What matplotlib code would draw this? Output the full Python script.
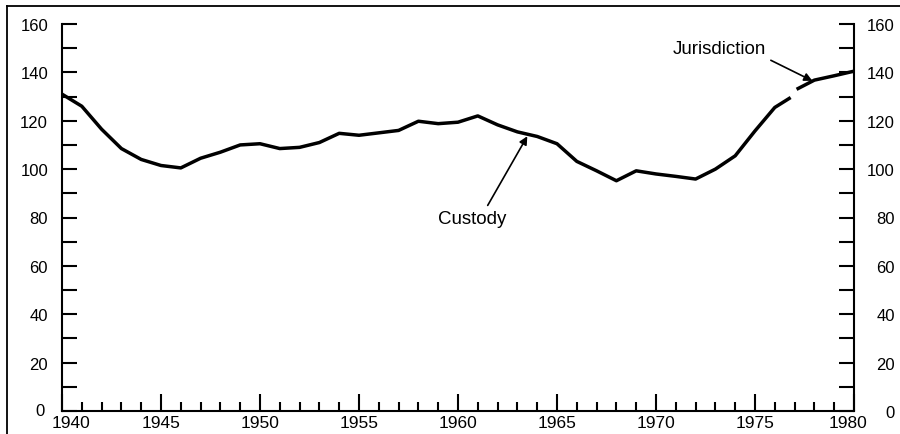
import matplotlib
matplotlib.use("Agg")
import matplotlib.pyplot as plt
from matplotlib.lines import Line2D
from matplotlib.ticker import MultipleLocator
import matplotlib.transforms as mtransforms

plt.rcParams['font.family'] = ['Liberation Sans', 'DejaVu Sans']

# custody series, 1940-1977
custody_years = [1940, 1941, 1942, 1943, 1944, 1945, 1946, 1947, 1948, 1949,
                 1950, 1951, 1952, 1953, 1954, 1955, 1956, 1957, 1958, 1959,
                 1960, 1961, 1962, 1963, 1964, 1965, 1966, 1967, 1968, 1969,
                 1970, 1971, 1972, 1973, 1974, 1975, 1976, 1976.8]
custody_vals = [131, 126, 116.5, 108.5, 104, 101.5, 100.5, 104.5, 107, 110,
                110.5, 108.5, 109, 111, 114.8, 114, 115, 116, 119.8, 118.8,
                119.4, 122, 118.3, 115.4, 113.5, 110.5, 103.2, 99.3, 95.2, 99.3,
                98, 97, 95.9, 100, 105.5, 115.8, 125.5, 129.6]

# jurisdiction series, 1977-1980
juris_years = [1977.1, 1978, 1979, 1980]
juris_vals = [133, 136.8, 138.6, 140.5]

yticks = list(range(0, 161, 20))
xticks = list(range(1940, 1981, 5))

fig = plt.figure(figsize=(9, 4.35), dpi=100)
ax = fig.add_axes([62 / 900, 23 / 435, 792 / 900, 387 / 435])

ax.plot(custody_years, custody_vals, color='black', lw=2.5,
        solid_joinstyle='round', solid_capstyle='butt')
ax.plot(juris_years, juris_vals, color='black', lw=2.5,
        solid_joinstyle='round', solid_capstyle='butt')

ax.set_xlim(1940, 1980)
ax.set_ylim(0, 160)

ax.spines['top'].set_visible(False)
for s in ['left', 'right', 'bottom']:
    ax.spines[s].set_linewidth(1.5)

ax.set_yticks(yticks)
ax.yaxis.set_minor_locator(MultipleLocator(10))
ax.set_xticks(xticks)
ax.xaxis.set_minor_locator(MultipleLocator(1))

ax.tick_params(axis='y', which='both', direction='in', left=True, right=True,
               labelleft=True, labelright=True, length=11, width=1.5,
               labelsize=12, pad=10)
ax.tick_params(axis='x', which='major', direction='in', length=12, width=1.5,
               labelsize=12.5, pad=3)
ax.tick_params(axis='x', which='minor', direction='in', length=6.5, width=1.5)

# right labels right-aligned near the page edge
for t in ax.yaxis.get_major_ticks():
    t.label2.set_horizontalalignment('right')
    t.label2.set_transform(t.label2.get_transform() +
                           mtransforms.ScaledTranslation(27 / 100, 0, fig.dpi_scale_trans))

# shift first/last year labels inward a bit
xt = ax.xaxis.get_major_ticks()
xt[0].label1.set_transform(xt[0].label1.get_transform() +
                           mtransforms.ScaledTranslation(9 / 100, 0, fig.dpi_scale_trans))
xt[-1].label1.set_transform(xt[-1].label1.get_transform() +
                            mtransforms.ScaledTranslation(-6 / 100, 0, fig.dpi_scale_trans))
yt = ax.yaxis.get_major_ticks()
yt[0].label1.set_transform(yt[0].label1.get_transform() +
                           mtransforms.ScaledTranslation(-3 / 100, 2 / 100, fig.dpi_scale_trans))

# annotations
arrow = dict(arrowstyle='-|>', color='black', lw=1.2,
             shrinkA=0, shrinkB=0, mutation_scale=12)
ax.text(1960.7, 79.5, 'Custody', ha='center', va='center', fontsize=13.5)
ax.annotate('', xy=(1963.5, 113.6), xytext=(1961.5, 85), arrowprops=arrow)
ax.text(1973.2, 150, 'Jurisdiction', ha='center', va='center', fontsize=13.5)
ax.annotate('', xy=(1977.9, 136.5), xytext=(1975.8, 145), arrowprops=arrow)

# page frame lines
fig.add_artist(Line2D([7 / 900, 7 / 900], [0, 1 - 7 / 435], color='black', lw=1.3))
fig.add_artist(Line2D([7 / 900, 1], [1 - 7 / 435, 1 - 7 / 435], color='black', lw=1.3))

fig.savefig('out.png', dpi=100)
